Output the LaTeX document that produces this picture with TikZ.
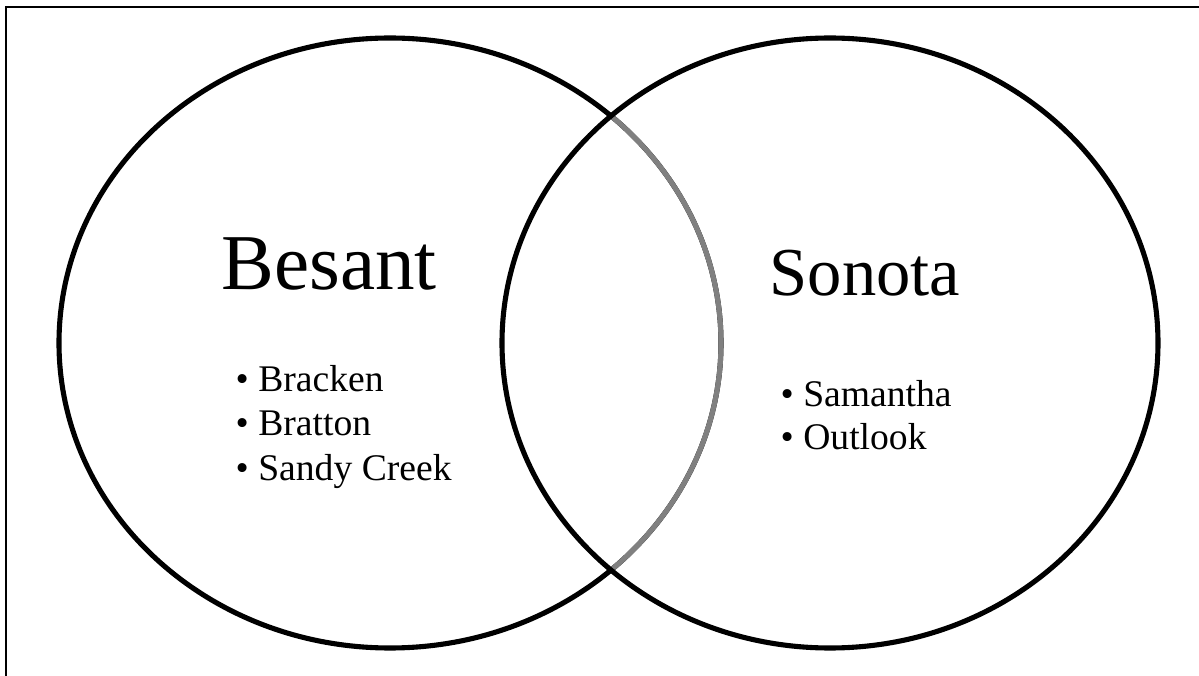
\documentclass[tikz,border=0pt]{standalone}
\usepackage{fontspec}
\setmainfont{Liberation Serif}
\usetikzlibrary{positioning}
\definecolor{vennarc}{RGB}{128,128,128}
\tikzset{
  settitle/.style={anchor=base, inner sep=0pt},
  setitem/.style={font=\fontsize{10.7}{12.8}\selectfont, anchor=base west, inner sep=0pt},
  setline/.style={line width=1.45pt, black}
}
\begin{document}
\begin{tikzpicture}[x=0.01cm, y=-0.01cm]
\useasboundingbox (0,0) rectangle (1199,676);
% Frame (top and left edges only)
\draw[line width=0.5pt] (6,676) -- (6,7) -- (1199,7);
% Left set
\draw[setline] (390,343) ellipse [x radius=331, y radius=305];
% Part of left set inside right set
\begin{scope}
\clip (830,343) ellipse [x radius=328, y radius=305];
\draw[setline, vennarc] (390,343) ellipse [x radius=331, y radius=305];
\end{scope}
% Right set
\draw[setline] (830,343) ellipse [x radius=328, y radius=305];
% Titles
\node[settitle, font=\fontsize{22.5}{26}\selectfont] (besant) at (329,290) {Besant};
\node[settitle, font=\fontsize{19.5}{23}\selectfont] (sonota) at (865,296) {Sonota};
% Items
\node[setitem] (bracken) at (235,392) {\textbullet\ Bracken};
\node[setitem] (bratton) at (235,436) {\textbullet\ Bratton};
\node[setitem] (sandy) at (235,481) {\textbullet\ Sandy Creek};
\node[setitem] (samantha) at (780,407) {\textbullet\ Samantha};
\node[setitem] (outlook) at (780,450) {\textbullet\ Outlook};
\end{tikzpicture}
\end{document}
